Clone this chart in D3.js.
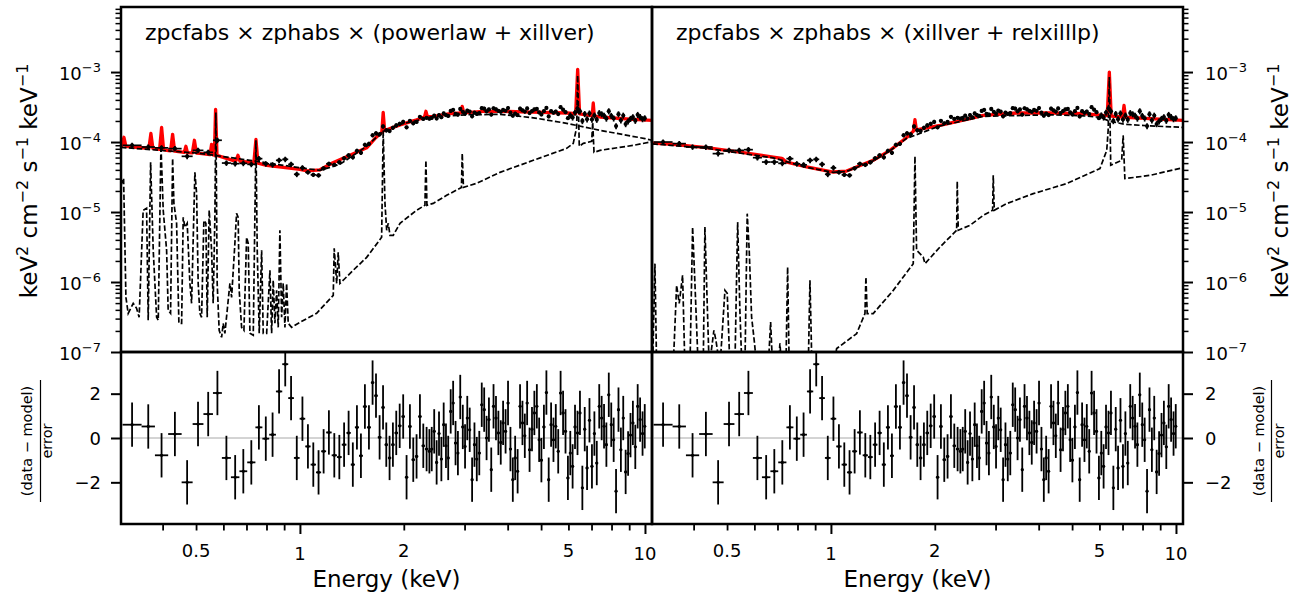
<!DOCTYPE html>
<html>
<head>
<meta charset="utf-8">
<script src="https://cdn.jsdelivr.net/npm/d3@7"></script>
<style>
  body { margin: 0; background: #fff; }
  text { font-family: "DejaVu Sans", sans-serif; fill: #000; }
</style>
</head>
<body>
<svg id="chart" width="1298" height="593"></svg>
<script>
// ---- data ----
const panelTitles = [
  'zpcfabs \u00d7 zphabs \u00d7 (powerlaw + xillver)',
  'zpcfabs \u00d7 zphabs \u00d7 (xillver + relxilllp)'
];

// spectral bin edges (keV)
const energyEdges = [
  0.3062, 0.3476, 0.3800, 0.4151, 0.4541, 0.4887, 0.5252, 0.5597, 0.5940, 0.6310,
  0.6677, 0.7035, 0.7430, 0.7784, 0.8147, 0.8520, 0.8887, 0.9249, 0.9607, 0.9980,
  1.036, 1.074, 1.113, 1.152, 1.191, 1.236, 1.280, 1.322, 1.364, 1.404,
  1.443, 1.483, 1.522, 1.564, 1.606, 1.642, 1.681, 1.723, 1.760, 1.799,
  1.839, 1.881, 1.923, 1.969, 2.015, 2.060, 2.107, 2.154, 2.202, 2.253,
  2.303, 2.355, 2.39, 2.43, 2.47, 2.51, 2.55, 2.59, 2.63, 2.67,
  2.71, 2.76, 2.80, 2.85, 2.89, 2.94, 2.99, 3.03, 3.08, 3.13,
  3.18, 3.23, 3.28, 3.34, 3.39, 3.45, 3.50, 3.56, 3.61, 3.67,
  3.73, 3.79, 3.85, 3.91, 3.98, 4.04, 4.11, 4.17, 4.24, 4.31,
  4.38, 4.45, 4.52, 4.59, 4.67, 4.74, 4.82, 4.90, 4.97, 5.05,
  5.14, 5.22, 5.30, 5.39, 5.47, 5.56, 5.65, 5.74, 5.84, 5.93,
  6.03, 6.12, 6.22, 6.32, 6.43, 6.53, 6.64, 6.74, 6.85, 6.96,
  7.08, 7.19, 7.31, 7.43, 7.55, 7.67, 7.79, 7.92, 8.05, 8.18,
  8.31, 8.45, 8.58, 8.72, 8.86, 9.01, 9.15, 9.30, 9.45, 9.60,
  9.76, 9.92, 10.05
];

// unfolded data flux per bin (left model), units of 1e-4 keV^2 cm^-2 s^-1 keV^-1
const fluxData = [
  0.897, 0.849, 0.826, 0.805, 0.625, 0.760, 0.713, 1.06, 0.501, 0.491,
  0.496, 0.480, 0.579, 0.489, 0.472, 0.548, 0.566, 0.480, 0.346, 0.428,
  0.369, 0.340, 0.334, 0.421, 0.489, 0.472, 0.513, 0.585, 0.646, 0.604,
  0.748, 0.702, 0.912, 0.942, 1.25, 1.33, 1.29, 1.67, 1.47, 1.44,
  1.60, 1.73, 1.82, 1.94, 1.62, 2.01, 1.85, 1.94, 2.29, 2.14,
  2.22,
  2.16, 2.21, 2.38, 2.17, 2.43, 2.26, 2.56, 2.43, 2.36, 2.78,
  2.88, 2.53, 2.47, 2.97, 2.71, 2.55, 2.81, 2.72, 2.33, 2.63,
  2.52, 2.59, 3.05, 3.01, 2.75, 2.92, 2.47, 3.04, 2.93, 2.79,
  2.71, 2.88, 2.80, 3.06, 2.63, 2.38, 2.55, 2.43, 3.00, 2.84,
  2.72, 3.02, 2.59, 2.77, 2.92, 2.97, 2.65, 2.48, 2.76, 3.07,
  2.32, 2.76, 2.62, 2.73, 2.51, 3.15, 2.90, 2.67, 2.19, 2.41,
  2.25, 2.64, 3.03, 2.75, 2.00, 2.52, 2.12, 2.57, 2.10, 2.40,
  2.09, 2.60, 2.50, 2.39, 2.17, 2.76, 2.37, 2.18, 1.69, 2.50,
  2.04, 2.39, 1.81, 1.98, 2.15, 2.27, 2.02, 2.45, 2.28, 2.13,
  2.19
];
// the lowest bins unfold differently against the right model (same units)
const fluxLowRight = [1.00, 0.949, 0.849, 0.849, 0.683, 0.760, 0.760, 0.778, 0.598, 0.518, 0.518, 0.496];

// fractional flux error by energy range [upper edge keV, fraction]
const fluxErrFrac = [[1.0, 0.09], [2.0, 0.07], [6.0, 0.06], [11.0, 0.10]];

// (data - model) / error per bin
const residuals = [
  0.60, 0.52, -0.78, 0.18, -2.00, 0.63, 1.08, 2.03, -0.90, -1.77,
  -1.50, -1.10, 0.48, -0.03, 0.15, 2.10, 3.33, 1.80, -0.90, 0.87,
  -0.38, -1.20, -1.55, -0.60, 0.25, -0.78, -0.86, -0.30, 0.23, -1.20,
  0.48, -0.80, 1.42, 0.48, 2.50, 1.91, 0.03, 1.38, -0.30, -0.90,
  -0.30, 0.23, 0.55, 0.97, -1.77, 0.52, -0.98, -0.83, 0.97, -0.35,
  -0.50,
  -0.6, -0.5, 0.3, -1.1, 0.2, -0.95, 0.6, -0.35, -0.9, 1.2,
  1.58, -0.23, -0.68, 1.85, 0.5, -0.38, 0.9, 0.37, -1.88, -0.3,
  -0.95, -0.68, 1.5, 1.28, 0.0, 0.83, -1.43, 1.43, 0.9, 0.23,
  -0.2, 0.68, 0.3, 1.58, -0.5, -1.88, -0.9, -1.5, 1.43, 0.68,
  0.1, 1.58, -0.53, 0.4, 1.13, 1.43, -0.08, -1.0, 0.5, 2.05,
  -1.88, 0.6, -0.08, 0.53, -0.6, 2.03, 1.13, 0.3, -1.8, -0.68,
  -1.28, 0.5, 0.23, 1.13, -2.25, 0.4, -1.35, 0.8, -1.28, 0.2,
  -1.13, 1.43, 0.9, 0.53, -0.3, 1.95, 0.6, -0.08, -2.4, 1.28,
  -0.53, 0.9, -1.53, -0.7, 0.13, 0.68, -0.4, 1.43, 0.83, 0.2,
  0.53
];

// left model: total, powerlaw, xillver  [keV, flux]
const totalLeft = [
  [0.3029, 8.83e-5], [0.3050, 8.8e-5], [0.3090, 1.17e-4], [0.3131, 8.7e-5], [0.3280, 8.49e-5],
  [0.3650, 8.15e-5], [0.3699, 1.33e-4], [0.3749, 8.1e-5], [0.3920, 7.85e-5], [0.3973, 1.62e-4],
  [0.4026, 7.8e-5], [0.4108, 7.6e-5], [0.4218, 7.5e-5], [0.4276, 1.29e-4], [0.4334, 7.4e-5],
  [0.4620, 7.1e-5], [0.4673, 8.7e-5], [0.4720, 7.05e-5], [0.4878, 7.0e-5], [0.4945, 1.06e-4],
  [0.5013, 6.95e-5], [0.5129, 6.9e-5], [0.5488, 6.6e-5], [0.5546, 9.27e-5], [0.5605, 6.55e-5],
  [0.5650, 6.5e-5], [0.5696, 2.93e-4], [0.5750, 6.45e-5], [0.6393, 5.48e-5], [0.6525, 5.4e-5],
  [0.6612, 6.46e-5], [0.6701, 5.3e-5], [0.7355, 5.1e-5], [0.7456, 1.09e-4], [0.7558, 5.0e-5],
  [0.8008, 4.65e-5], [1.000, 4.07e-5], [1.048, 3.88e-5], [1.143, 4.01e-5], [1.246, 5.05e-5],
  [1.396, 6.46e-5], [1.561, 8.26e-5], [1.649, 1.12e-4], [1.727, 1.38e-4], [1.743, 2.65e-4],
  [1.760, 1.46e-4], [1.950, 1.76e-4], [2.179, 2.07e-4], [2.295, 2.27e-4], [2.318, 2.75e-4],
  [2.341, 2.30e-4], [2.427, 2.31e-4], [2.721, 2.55e-4], [2.925, 2.61e-4], [2.954, 3.24e-4],
  [2.984, 2.62e-4], [3.047, 2.63e-4], [3.392, 2.75e-4], [3.800, 2.75e-4], [4.733, 2.68e-4],
  [5.943, 2.60e-4], [6.296, 2.55e-4], [6.382, 1.09e-3], [6.465, 2.52e-4], [7.032, 2.37e-4],
  [7.081, 3.61e-4], [7.131, 2.35e-4], [7.405, 2.28e-4], [9.223, 2.11e-4], [10.48, 2.04e-4]
];
const powerlawLeft = [
  [0.303, 8.39e-5], [0.513, 6.90e-5], [0.716, 5.48e-5], [1.0, 4.28e-5], [1.143, 3.94e-5],
  [1.306, 4.80e-5], [1.561, 8.69e-5], [1.740, 1.42e-4], [1.950, 1.79e-4], [2.429, 2.29e-4],
  [3.04, 2.45e-4], [3.80, 2.49e-4], [4.75, 2.22e-4], [5.93, 1.85e-4], [7.40, 1.47e-4],
  [10.0, 1.12e-4], [10.48, 1.06e-4]
];
const xillverLeft = [
  [0.3029, 2.41e-5], [0.3083, 3.03e-5], [0.3131, 6.04e-7], [0.3179, 3.57e-7], [0.3287, 4.96e-7],
  [0.3362, 4.21e-7], [0.3420, 3.13e-7], [0.3513, 1.06e-5], [0.3594, 1.13e-5], [0.3633, 2.84e-7],
  [0.3692, 5.13e-5], [0.3757, 2.84e-6], [0.3843, 3.13e-7], [0.3885, 2.84e-7], [0.3956, 8.97e-5],
  [0.4016, 1.06e-5], [0.4108, 2.84e-6], [0.4151, 3.94e-7], [0.4218, 3.57e-7], [0.4276, 5.85e-5],
  [0.4313, 1.33e-5], [0.4391, 6.90e-6], [0.4459, 2.57e-7], [0.4541, 2.57e-7], [0.4589, 8.39e-6],
  [0.4642, 6.04e-6], [0.4713, 6.90e-6], [0.4799, 9.57e-7], [0.4853, 4.96e-7], [0.4961, 3.69e-5],
  [0.5018, 1.85e-5], [0.5071, 9.57e-7], [0.5129, 3.57e-7], [0.5188, 3.13e-7], [0.5268, 7.60e-6],
  [0.5339, 6.90e-6], [0.5386, 3.13e-7], [0.5458, 1.06e-5], [0.5546, 2.84e-6], [0.5605, 4.96e-7],
  [0.5669, 8.39e-6], [0.5707, 2.65e-4], [0.5757, 9.57e-7], [0.5834, 2.04e-7], [0.5930, 1.62e-7],
  [0.5993, 2.57e-7], [0.6061, 1.85e-7], [0.6267, 9.57e-7], [0.6339, 6.04e-7], [0.6479, 3.57e-6],
  [0.6552, 9.57e-6], [0.6623, 8.39e-6], [0.6668, 7.60e-7], [0.6776, 2.25e-7], [0.6882, 2.04e-7],
  [0.7006, 4.35e-6], [0.7082, 3.57e-6], [0.7164, 1.85e-7], [0.7323, 1.73e-7], [0.7456, 1.06e-4],
  [0.7521, 2.84e-6], [0.7622, 1.85e-7], [0.7745, 2.84e-6], [0.7828, 1.85e-7], [0.8008, 1.85e-7],
  [0.8186, 1.47e-6], [0.8279, 1.85e-7], [0.8368, 1.06e-6], [0.8463, 2.57e-7], [0.8560, 7.60e-7],
  [0.8652, 2.25e-7], [0.8749, 5.48e-6], [0.8850, 3.13e-7], [0.8945, 9.57e-7], [0.9048, 2.25e-7],
  [0.9150, 9.57e-7], [0.9249, 2.57e-7], [0.9461, 2.25e-7], [1.000, 2.65e-7], [1.118, 3.57e-7],
  [1.249, 6.46e-7], [1.257, 3.03e-6], [1.278, 9.57e-7], [1.291, 2.65e-6], [1.306, 9.57e-7],
  [1.335, 1.06e-6], [1.427, 1.47e-6], [1.561, 2.25e-6], [1.725, 4.35e-6], [1.743, 1.47e-4],
  [1.764, 1.33e-5], [1.784, 5.48e-6], [1.803, 6.90e-6], [1.824, 4.64e-6], [1.864, 4.64e-6],
  [1.950, 6.90e-6], [2.179, 1.06e-5], [2.303, 1.25e-5], [2.318, 5.48e-5], [2.334, 1.25e-5],
  [2.434, 1.33e-5], [2.662, 1.73e-5], [2.938, 2.25e-5], [2.954, 6.90e-5], [2.978, 2.25e-5],
  [3.252, 2.57e-5], [3.800, 3.69e-5], [4.746, 5.48e-5], [5.930, 8.13e-5], [6.197, 9.57e-5],
  [6.339, 1.62e-4], [6.382, 8.97e-4], [6.451, 8.69e-5], [6.626, 9.57e-5], [7.008, 1.02e-4],
  [7.055, 1.91e-4], [7.117, 7.13e-5], [7.405, 7.60e-5], [9.250, 8.97e-5], [10.48, 1.01e-4]
];

// right model: total, relxilllp, xillver
const totalRight = [
  [0.3039, 9.68e-5], [0.349, 9.27e-5], [0.4362, 8.32e-5], [0.5447, 7.19e-5], [0.6805, 6.10e-5],
  [0.7211, 5.85e-5], [0.7406, 5.21e-5], [0.8504, 4.40e-5], [1.015, 3.73e-5], [1.110, 3.85e-5],
  [1.326, 5.48e-5], [1.483, 7.60e-5], [1.658, 1.16e-4], [1.734, 1.43e-4], [1.752, 2.09e-4],
  [1.769, 1.49e-4], [2.070, 1.73e-4], [2.529, 2.16e-4], [2.763, 2.40e-4], [3.454, 2.60e-4],
  [4.313, 2.60e-4], [5.387, 2.55e-4], [6.155, 2.40e-4], [6.32, 2.38e-4], [6.41, 1.0e-3],
  [6.49, 2.35e-4], [7.0, 2.28e-4], [7.07, 3.34e-4], [7.14, 2.26e-4], [8.408, 2.16e-4],
  [10.48, 2.04e-4]
];
const relxillRight = [
  [0.3039, 9.42e-5], [0.4362, 8.13e-5], [0.6805, 5.94e-5], [0.8504, 4.35e-5], [1.015, 3.69e-5],
  [1.110, 3.81e-5], [1.326, 5.39e-5], [1.483, 7.5e-5], [1.658, 1.13e-4], [2.070, 1.70e-4],
  [2.763, 2.33e-4], [4.313, 2.45e-4], [5.387, 2.37e-4], [6.02, 2.25e-4], [6.44, 1.98e-4],
  [7.11, 1.79e-4], [8.408, 1.70e-4], [10.48, 1.62e-4]
];
const xillverRight = [
  [0.3042, 6e-8], [0.3090, 1.83e-6], [0.3125, 6e-8], [0.3490, 6e-8], [0.3571, 8.97e-7],
  [0.3634, 4.96e-7], [0.3716, 1.25e-6], [0.3774, 6e-8], [0.3903, 6e-8], [0.3973, 6.10e-6],
  [0.4035, 9.57e-7], [0.4125, 6e-8], [0.4265, 6e-8], [0.4313, 6.10e-6], [0.4362, 9.57e-7],
  [0.4438, 6e-8], [0.4580, 2.04e-7], [0.4642, 1.47e-7], [0.4768, 6e-8], [0.4930, 7.60e-7],
  [0.5006, 6.90e-7], [0.5097, 6e-8], [0.5268, 6e-8], [0.5366, 7.19e-6], [0.5447, 3.94e-7],
  [0.5521, 6e-8], [0.5633, 6e-8], [0.5720, 9.48e-6], [0.5797, 2.84e-6], [0.5890, 3.16e-7],
  [0.5993, 1.47e-7], [0.6101, 6e-8], [0.6581, 6e-8], [0.6687, 2.68e-7], [0.6776, 6e-8],
  [0.7035, 6e-8], [0.7116, 1.33e-7], [0.7196, 6e-8], [0.7406, 6e-8], [0.7490, 1.64e-6],
  [0.7570, 6e-8], [0.8596, 6e-8], [0.8694, 1.06e-6], [0.8809, 6e-8], [1.015, 6e-8],
  [1.039, 1.12e-7], [1.187, 1.83e-7], [1.255, 3.54e-7], [1.263, 1.18e-6], [1.274, 3.54e-7],
  [1.326, 3.54e-7], [1.516, 7.60e-7], [1.732, 1.83e-6], [1.752, 6.25e-5], [1.771, 2.84e-6],
  [1.811, 2.55e-6], [1.851, 2.28e-6], [1.873, 1.83e-6], [2.070, 3.16e-6], [2.314, 5.48e-6],
  [2.323, 2.75e-5], [2.339, 5.48e-6], [2.529, 6.46e-6], [2.763, 8.97e-6], [2.942, 1.06e-5],
  [2.954, 3.34e-5], [2.974, 1.06e-5], [3.231, 1.32e-5], [3.858, 1.83e-5], [4.823, 2.55e-5],
  [6.02, 4.17e-5], [6.30, 7.60e-5], [6.36, 1.47e-4], [6.41, 8.49e-4], [6.47, 4.65e-5],
  [6.96, 5.48e-5], [7.03, 1.25e-4], [7.11, 3.00e-5], [8.408, 3.34e-5], [10.48, 4.31e-5]
];

// axes
const energyRange = [0.303, 10.48];
const fluxRange = [1e-7, 8.5e-3];
const residRange = [-3.88, 3.88];
const fluxDecades = [1e-7, 1e-6, 1e-5, 1e-4, 1e-3];
const residTicks = [-2, 0, 2];
const energyMajorTicks = [1, 10];
const energyMinorTicks = [0.4, 0.5, 0.6, 0.7, 0.8, 0.9, 2, 3, 4, 5, 6, 7, 8, 9];
const energyTickLabels = [[0.5, '0.5', false], [1, '1', true], [2, '2', false], [6, '5', false], [10, '10', true]];

// ---- layout ----
const TOP = [7, 352], BOT = [352, 524];
const COLS = [[121, 652], [652, 1183]];

const svg = d3.select('#chart');
const defs = svg.append('defs');

const yFlux = d3.scaleLog().domain(fluxRange).range([TOP[1], TOP[0]]);
const yRes = d3.scaleLinear().domain(residRange).range([BOT[1], BOT[0]]);

const fluxMinor = [];
fluxDecades.forEach(d => {
  for (let m = 2; m <= 9; m++) if (d * m < fluxRange[1]) fluxMinor.push(d * m);
});

function errFracFor(e) {
  return fluxErrFrac.find(r => e < r[0])[1];
}

function makeBins(idx) {
  return residuals.map((r, i) => {
    const lo = energyEdges[i], hi = energyEdges[i + 1];
    const raw = (idx === 1 && i < fluxLowRight.length) ? fluxLowRight[i] : fluxData[i];
    const f = raw * 1e-4;
    return { lo, hi, mid: Math.sqrt(lo * hi), flux: f, ferr: f * errFracFor(lo), res: r };
  });
}

function styleAxis(g, width) {
  g.select('.domain').remove();
  g.selectAll('.tick line').attr('stroke', '#000').attr('stroke-width', width);
}

function drawPanel(idx, side) {
  const [x0, x1] = COLS[idx];
  const x = d3.scaleLog().domain(energyRange).range([x0, x1]);
  const line = d3.line().x(d => x(d[0])).y(d => yFlux(d[1]));
  const bins = makeBins(idx);

  const clipTop = 'clipTop' + idx, clipBot = 'clipBot' + idx;
  defs.append('clipPath').attr('id', clipTop).append('rect')
    .attr('x', x0).attr('y', TOP[0]).attr('width', x1 - x0).attr('height', TOP[1] - TOP[0]);
  defs.append('clipPath').attr('id', clipBot).append('rect')
    .attr('x', x0).attr('y', BOT[0]).attr('width', x1 - x0).attr('height', BOT[1] - BOT[0]);

  const top = svg.append('g').attr('clip-path', `url(#${clipTop})`);
  const total = idx === 0 ? totalLeft : totalRight;
  const comps = idx === 0 ? [powerlawLeft, xillverLeft] : [relxillRight, xillverRight];

  top.append('path').datum(total).attr('d', line)
    .attr('fill', 'none').attr('stroke', '#ff0000').attr('stroke-width', 3.3)
    .attr('stroke-linejoin', 'round');

  comps.forEach(c => {
    top.append('path').datum(c).attr('d', line)
      .attr('fill', 'none').attr('stroke', '#000').attr('stroke-width', 1.7)
      .attr('stroke-dasharray', '5.5,2.4');
  });

  // data points with error bars
  const pts = top.append('g').attr('stroke', '#000').attr('stroke-width', 1.7);
  pts.selectAll('line.h').data(bins).enter().append('line')
    .attr('x1', d => x(d.lo)).attr('x2', d => x(d.hi))
    .attr('y1', d => yFlux(d.flux)).attr('y2', d => yFlux(d.flux));
  pts.selectAll('line.v').data(bins).enter().append('line')
    .attr('x1', d => x(d.mid)).attr('x2', d => x(d.mid))
    .attr('y1', d => yFlux(d.flux - d.ferr)).attr('y2', d => yFlux(d.flux + d.ferr));
  top.append('g').selectAll('circle').data(bins).enter().append('circle')
    .attr('cx', d => x(d.mid)).attr('cy', d => yFlux(d.flux)).attr('r', 2.1).attr('fill', '#000');

  // residual panel
  const bot = svg.append('g').attr('clip-path', `url(#${clipBot})`);
  bot.append('line').attr('x1', x0).attr('x2', x1)
    .attr('y1', yRes(0)).attr('y2', yRes(0))
    .attr('stroke', '#a8a8a8').attr('stroke-width', 1);
  const rg = bot.append('g').attr('stroke', '#000').attr('stroke-width', 1.8);
  rg.selectAll('line.h').data(bins).enter().append('line')
    .attr('x1', d => x(d.lo)).attr('x2', d => x(d.hi))
    .attr('y1', d => yRes(d.res)).attr('y2', d => yRes(d.res));
  rg.selectAll('line.v').data(bins).enter().append('line')
    .attr('x1', d => x(d.mid)).attr('x2', d => x(d.mid))
    .attr('y1', d => yRes(d.res - 1)).attr('y2', d => yRes(d.res + 1));
  bot.append('g').selectAll('circle').data(bins).enter().append('circle')
    .attr('cx', d => x(d.mid)).attr('cy', d => yRes(d.res)).attr('r', 1.6).attr('fill', '#000');

  // title
  svg.append('text').attr('x', x0 + 24).attr('y', 40).attr('font-size', 22)
    .text(panelTitles[idx]);

  // x axis (bottom of residual panel)
  const xMinor = svg.append('g').attr('transform', `translate(0,${BOT[1]})`)
    .call(d3.axisBottom(x).tickValues(energyMinorTicks).tickSize(6.5).tickFormat(''));
  styleAxis(xMinor, 1.8);
  const xMajor = svg.append('g').attr('transform', `translate(0,${BOT[1]})`)
    .call(d3.axisBottom(x).tickValues(energyMajorTicks).tickSize(10).tickFormat(''));
  styleAxis(xMajor, 2);
  energyTickLabels.forEach(([v, t, major]) => {
    svg.append('text').attr('x', x(v)).attr('y', major ? 560 : 557)
      .attr('text-anchor', 'middle').attr('font-size', 18).text(t);
  });
  svg.append('text').attr('x', (x0 + x1) / 2).attr('y', 587)
    .attr('text-anchor', 'middle').attr('font-size', 23).text('Energy (keV)');

  // y axes
  const yx = side === 'left' ? x0 : x1;
  const axisFn = side === 'left' ? d3.axisLeft : d3.axisRight;
  const yMin = svg.append('g').attr('transform', `translate(${yx},0)`)
    .call(axisFn(yFlux).tickValues(fluxMinor).tickSize(5.5).tickFormat(''));
  styleAxis(yMin, 1.5);
  const yMaj = svg.append('g').attr('transform', `translate(${yx},0)`)
    .call(axisFn(yFlux).tickValues(fluxDecades).tickSize(10).tickFormat(''));
  styleAxis(yMaj, 2);
  const yR = svg.append('g').attr('transform', `translate(${yx},0)`)
    .call(axisFn(yRes).tickValues(residTicks).tickSize(10).tickFormat(''));
  styleAxis(yR, 2);

  const lx = side === 'left' ? yx - 20 : yx + 22;
  const anchor = side === 'left' ? 'end' : 'start';
  fluxDecades.forEach(v => {
    const t = svg.append('text').attr('x', lx).attr('y', yFlux(v) + 8)
      .attr('text-anchor', anchor).attr('font-size', 18);
    t.append('tspan').text('10');
    t.append('tspan').attr('dy', -8).attr('font-size', 13)
      .text('\u2212' + Math.abs(Math.round(Math.log10(v))));
  });
  residTicks.forEach(v => {
    svg.append('text').attr('x', lx).attr('y', yRes(v) + 6.5)
      .attr('text-anchor', anchor).attr('font-size', 18)
      .text(v < 0 ? '\u2212' + Math.abs(v) : String(v));
  });

  // axis titles
  const fx = side === 'left' ? 37 : 1288;
  const yl = svg.append('text').attr('transform', `translate(${fx},181) rotate(-90)`)
    .attr('text-anchor', 'middle').attr('font-size', 23);
  [['keV', '2'], ['\u00a0cm', '\u22122'], ['\u00a0s', '\u22121'], ['\u00a0keV', '\u22121']].forEach(([base, sup], k) => {
    yl.append('tspan').attr('dy', k === 0 ? 0 : 9).text(base);
    yl.append('tspan').attr('dy', -9).attr('font-size', 16).text(sup);
  });

  const numX = side === 'left' ? 32 : 1264;
  const lineX = side === 'left' ? 40.5 : 1271.5;
  const denX = side === 'left' ? 51.5 : 1283.5;
  svg.append('text').attr('transform', `translate(${numX},441) rotate(-90)`)
    .attr('text-anchor', 'middle').attr('font-size', 14.5).text('(data \u2212 model)');
  svg.append('line').attr('x1', lineX).attr('x2', lineX).attr('y1', 380).attr('y2', 502)
    .attr('stroke', '#000').attr('stroke-width', 1.2);
  svg.append('text').attr('transform', `translate(${denX},441) rotate(-90)`)
    .attr('text-anchor', 'middle').attr('font-size', 14.5).text('error');

  // frames
  [TOP, BOT].forEach(([ya, yb]) => {
    svg.append('rect').attr('x', x0).attr('y', ya).attr('width', x1 - x0).attr('height', yb - ya)
      .attr('fill', 'none').attr('stroke', '#000').attr('stroke-width', 2.5);
  });
}

drawPanel(0, 'left');
drawPanel(1, 'right');
</script>
</body>
</html>
